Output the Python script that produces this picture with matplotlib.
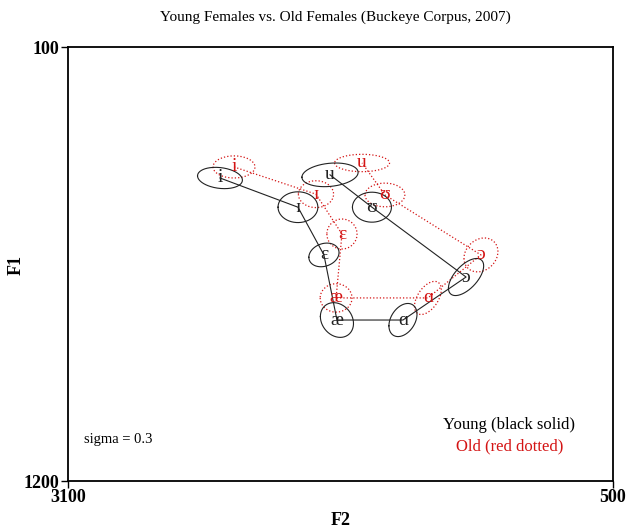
"""Vowel space chart: young vs old females (Buckeye Corpus)."""
import numpy as np
import matplotlib
matplotlib.use("Agg")
import matplotlib.pyplot as plt

SERIF = ["Liberation Serif", "DejaVu Serif"]
RED = "#d41414"

vowels = ["i", "ɪ", "ɛ", "æ", "ɑ", "ɔ", "ʊ", "u"]

# means (Hz)
young_f2 = [2375, 2003, 1879, 1817, 1502, 1201, 1650, 1850]
young_f1 = [432, 506, 627, 792, 792, 683, 506, 424]
old_f2 = [2308, 1917, 1793, 1821, 1383, 1130, 1588, 1697]
old_f1 = [404, 473, 574, 736, 736, 627, 475, 394]

# ellipse half-extents (Hz) and F1/F2 correlation, sigma = 0.3
young_f2_rad = [107, 95, 72, 79, 67, 84, 93, 134]
young_f1_rad = [27, 39, 30, 44, 42, 47, 38, 30]
young_rho = [-0.2, 0.0, 0.2, -0.2, 0.35, 0.6, 0.0, 0.2]
old_f2_rad = [100, 84, 72, 76, 64, 81, 95, 131]
old_f1_rad = [28, 34, 38, 36, 42, 43, 30, 22]
old_rho = [0.0, 0.0, 0.0, 0.0, 0.5, 0.2, 0.0, 0.0]


def _ellipse(ax, mx, my, a, b, rho, **kw):
    t = np.linspace(0, 2 * np.pi, 200)
    x = mx + a * np.cos(t)
    y = my + b * (rho * np.cos(t) + np.sqrt(1 - rho ** 2) * np.sin(t))
    ax.plot(x, y, **kw)


def _group(ax, f2, f1, f2r, f1r, rho, color, ls, lw):
    ax.plot(f2, f1, color=color, ls=ls, lw=lw, zorder=2)
    for k, v in enumerate(vowels):
        _ellipse(ax, f2[k], f1[k], f2r[k], f1r[k], rho[k],
                 color=color, ls=ls, lw=lw, zorder=2)
        ax.text(f2[k], f1[k], v, color=color, fontsize=14, family=SERIF,
                ha="center", va="center", zorder=3)


fig = plt.figure(figsize=(6.26, 5.31), dpi=100)
ax = fig.add_axes([68 / 626, 1 - 481 / 531, 545 / 626, 434 / 531])

_group(ax, old_f2, old_f1, old_f2_rad, old_f1_rad, old_rho, RED, ":", 0.9)
_group(ax, young_f2, young_f1, young_f2_rad, young_f1_rad, young_rho, "#222222", "-", 0.8)

ax.set_xlim(3100, 500)
ax.set_ylim(1200, 100)
ax.set_xticks([3100, 500])
ax.set_yticks([100, 1200])
ax.tick_params(direction="out", length=5, width=1, pad=1)
for lab in ax.get_xticklabels() + ax.get_yticklabels():
    lab.set_family(SERIF)
    lab.set_fontweight("bold")
    lab.set_fontsize(13)
for sp in ax.spines.values():
    sp.set_linewidth(1.3)

ax.set_xlabel("F2", family=SERIF, fontweight="bold", fontsize=13, labelpad=4)
fig.text(16 / 626, 1 - 265 / 531, "F1", family=SERIF, fontweight="bold",
         fontsize=13, rotation=90, ha="center", va="center")
fig.text(335 / 626, 1 - 17 / 531, "Young Females vs. Old Females (Buckeye Corpus, 2007)",
         family=SERIF, fontsize=11, ha="center", va="center")

ax.text(0.03, 0.095, "sigma = 0.3", transform=ax.transAxes,
        family=SERIF, fontsize=10.5, ha="left", va="center")
ax.text(0.81, 0.13, "Young (black solid)", transform=ax.transAxes,
        family=SERIF, fontsize=12, ha="center", va="center", color="black")
ax.text(0.81, 0.08, "Old (red dotted)", transform=ax.transAxes,
        family=SERIF, fontsize=12, ha="center", va="center", color=RED)

fig.savefig("out.png", dpi=100)
